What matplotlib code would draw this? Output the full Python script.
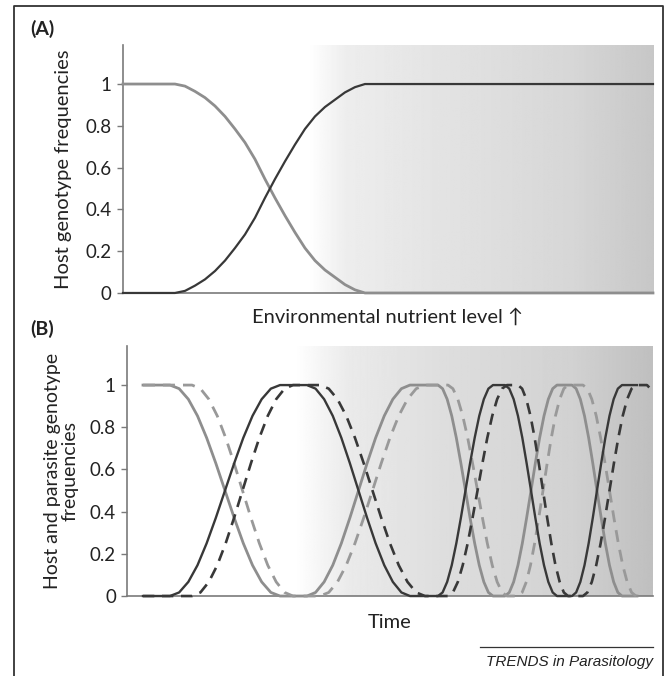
import numpy as np
import matplotlib
matplotlib.use("Agg")
import matplotlib.pyplot as plt
from matplotlib.lines import Line2D

plt.rcParams['font.family'] = ['Lato', 'DejaVu Sans']

# ---- panel A : host genotype frequencies vs nutrient level ----
nut = [0, 9.81, 11.70, 13.58, 15.47, 17.36, 19.25, 21.13, 23.02, 24.91, 26.79,
       28.68, 30.57, 32.45, 34.34, 36.23, 38.11, 40.00, 41.89, 43.77, 45.66, 100]
host_a_gray = [1, 1, 0.99, 0.965, 0.935, 0.895, 0.845, 0.785, 0.72, 0.64, 0.545,
               0.455, 0.37, 0.29, 0.215, 0.155, 0.11, 0.075, 0.04, 0.015, 0, 0]
host_a_dark = [0, 0, 0.01, 0.035, 0.065, 0.105, 0.155, 0.215, 0.28, 0.36, 0.455,
               0.545, 0.63, 0.71, 0.785, 0.845, 0.89, 0.925, 0.96, 0.985, 1, 1]

# ---- panel B : host (solid) and parasite (dashed) frequencies over time ----
host_t = [3.04,
          8.17, 9.91, 11.66, 13.40, 15.14, 16.89, 18.63, 20.37, 22.11, 23.86, 25.60, 27.35, 29.09,
          34.22, 35.85, 37.48, 39.12, 40.75, 42.38, 44.01, 45.64, 47.27, 48.91, 50.54, 52.17, 53.80,
          59.13, 60.00, 60.87, 61.74, 62.61, 63.48, 64.35, 65.22, 66.10, 66.97, 67.84, 68.71, 69.58,
          71.86, 72.68, 73.51, 74.33, 75.16, 75.98, 76.81, 77.63, 78.45, 79.28, 80.10, 80.93, 81.75,
          84.60, 85.39, 86.19, 86.98, 87.77, 88.56, 89.35, 90.15, 90.94, 91.73, 92.52, 93.32, 94.11,
          96.96]
host_dark = [0,
             0, .017, .067, .146, .25, .371, .5, .629, .75, .854, .933, .983, 1,
             1, .983, .933, .854, .75, .629, .5, .371, .25, .146, .067, .017, 0,
             0, .017, .067, .146, .25, .371, .5, .629, .75, .854, .933, .983, 1,
             1, .983, .933, .854, .75, .629, .5, .371, .25, .146, .067, .017, 0,
             0, .017, .067, .146, .25, .371, .5, .629, .75, .854, .933, .983, 1,
             1]
host_gray = [1,
             1, .983, .933, .854, .75, .629, .5, .371, .25, .146, .067, .017, 0,
             0, .017, .067, .146, .25, .371, .5, .629, .75, .854, .933, .983, 1,
             1, .983, .933, .854, .75, .629, .5, .371, .25, .146, .067, .017, 0,
             0, .017, .067, .146, .25, .371, .5, .629, .75, .854, .933, .983, 1,
             1, .983, .933, .854, .75, .629, .5, .371, .25, .146, .067, .017, 0,
             0]

para_t = [3.04,
          12.36, 13.96, 15.56, 17.16, 18.76, 20.36, 21.96, 23.56, 25.16, 26.76, 28.36, 29.96, 31.56,
          36.69, 38.35, 40.02, 41.68, 43.34, 45.01, 46.67, 48.33, 49.99, 51.66, 53.32, 54.98, 56.65,
          61.03, 61.96, 62.90, 63.83, 64.77, 65.70, 66.64, 67.57, 68.50, 69.44, 70.37, 71.31, 72.24,
          74.33, 75.12, 75.92, 76.71, 77.50, 78.29, 79.09, 79.88, 80.67, 81.46, 82.26, 83.05, 83.84,
          86.69, 87.53, 88.37, 89.21, 90.05, 90.89, 91.73, 92.57, 93.41, 94.25, 95.09, 95.93, 96.77,
          98.86, 100.0]
para_dark = [0,
             0, .017, .067, .146, .25, .371, .5, .629, .75, .854, .933, .983, 1,
             1, .983, .933, .854, .75, .629, .5, .371, .25, .146, .067, .017, 0,
             0, .017, .067, .146, .25, .371, .5, .629, .75, .854, .933, .983, 1,
             1, .983, .933, .854, .75, .629, .5, .371, .25, .146, .067, .017, 0,
             0, .017, .067, .146, .25, .371, .5, .629, .75, .854, .933, .983, 1,
             1, .97]
para_gray = [1,
             1, .983, .933, .854, .75, .629, .5, .371, .25, .146, .067, .017, 0,
             0, .017, .067, .146, .25, .371, .5, .629, .75, .854, .933, .983, 1,
             1, .983, .933, .854, .75, .629, .5, .371, .25, .146, .067, .017, 0,
             0, .017, .067, .146, .25, .371, .5, .629, .75, .854, .933, .983, 1,
             1, .983, .933, .854, .75, .629, .5, .371, .25, .146, .067, .017, 0]

yticks = [0, 0.2, 0.4, 0.6, 0.8, 1]
ytick_labels = ["0", "0.2", "0.4", "0.6", "0.8", "1"]

# background shading (fraction of axis width -> grey level)
shade_a_x = [0, 0.35, 0.42, 0.6, 0.85, 1.0]
shade_a_v = [1.0, 1.0, 0.93, 0.89, 0.84, 0.78]
shade_b_x = [0, 0.32, 0.42, 0.6, 0.85, 1.0]
shade_b_v = [1.0, 1.0, 0.92, 0.87, 0.82, 0.75]

DARK = '#383838'
GRAY = '#8e8e8e'
SPINE = '#7a7a7a'
TXT = '#222222'


def shade(ax, xs, vs, ymax):
    cols = np.interp(np.linspace(0, 1, 600), xs, vs)
    img = np.tile(cols, (2, 1))
    ax.imshow(img, cmap='gray', vmin=0, vmax=1, aspect='auto',
              extent=[0, 100, 0, ymax], zorder=0, interpolation='bilinear')


def style(ax, ymax):
    ax.set_xlim(0, 100)
    ax.set_ylim(0, ymax)
    for s in ['top', 'right']:
        ax.spines[s].set_visible(False)
    for s in ['left', 'bottom']:
        ax.spines[s].set_color(SPINE)
        ax.spines[s].set_linewidth(1.2)
    ax.set_xticks([])
    ax.set_yticks(yticks)
    ax.set_yticklabels(ytick_labels)
    ax.tick_params(axis='y', length=4, width=1, color=SPINE, pad=4,
                   labelsize=13.5, labelcolor=TXT)


fig = plt.figure(figsize=(6.72, 6.76), dpi=100)

ax1 = fig.add_axes([0.1830, 0.5666, 0.7887, 0.3669])
ymax_a = 1.187
shade(ax1, shade_a_x, shade_a_v, ymax_a)
ax1.plot(nut, host_a_gray, color=GRAY, lw=2, clip_on=False, zorder=3)
ax1.plot(nut, host_a_dark, color=DARK, lw=1.6, clip_on=False, zorder=3)
style(ax1, ymax_a)
ax1.set_ylabel("Host genotype frequencies", fontsize=14.5, color=TXT, labelpad=10)
ax1.set_xlabel("Environmental nutrient level \u2191", fontsize=14.5, color=TXT, labelpad=11)

ax2 = fig.add_axes([0.1890, 0.1183, 0.7827, 0.3698])
ymax_b = 1.185
shade(ax2, shade_b_x, shade_b_v, ymax_b)
ax2.plot(host_t, host_gray, color=GRAY, lw=2, clip_on=False, zorder=3)
ax2.plot(para_t[:len(para_gray)], para_gray, color='#999999', lw=2, dashes=(4.3, 2.9),
         clip_on=False, zorder=3)
ax2.plot(host_t, host_dark, color=DARK, lw=1.7, clip_on=False, zorder=4)
ax2.plot(para_t, para_dark, color=DARK, lw=1.9, dashes=(4.3, 2.9), clip_on=False, zorder=4)
style(ax2, ymax_b)
ax2.set_ylabel("Host and parasite genotype\nfrequencies", fontsize=14, color=TXT,
               labelpad=8, linespacing=1.05)
ax2.set_xlabel("Time", fontsize=14.5, color=TXT, labelpad=13)

fig.text(0.045, 0.957, "(A)", fontsize=14, fontweight='bold', color=TXT, va='center')
fig.text(0.045, 0.513, "(B)", fontsize=14, fontweight='bold', color=TXT, va='center')

# outer frame (open at the bottom)
fig.add_artist(Line2D([0.021, 0.021, 0.987, 0.987], [0.0, 0.991, 0.991, 0.0],
                      color='#333333', lw=1.3, transform=fig.transFigure))

# journal credit
fig.add_artist(Line2D([0.714, 0.972], [0.043, 0.043], color='#333333', lw=0.9,
                      transform=fig.transFigure))
fig.text(0.972, 0.021, "TRENDS in Parasitology", fontsize=11, style='italic',
         family=['Liberation Sans', 'DejaVu Sans'], ha='right', va='center', color=TXT)

fig.savefig("out.png", dpi=100)
